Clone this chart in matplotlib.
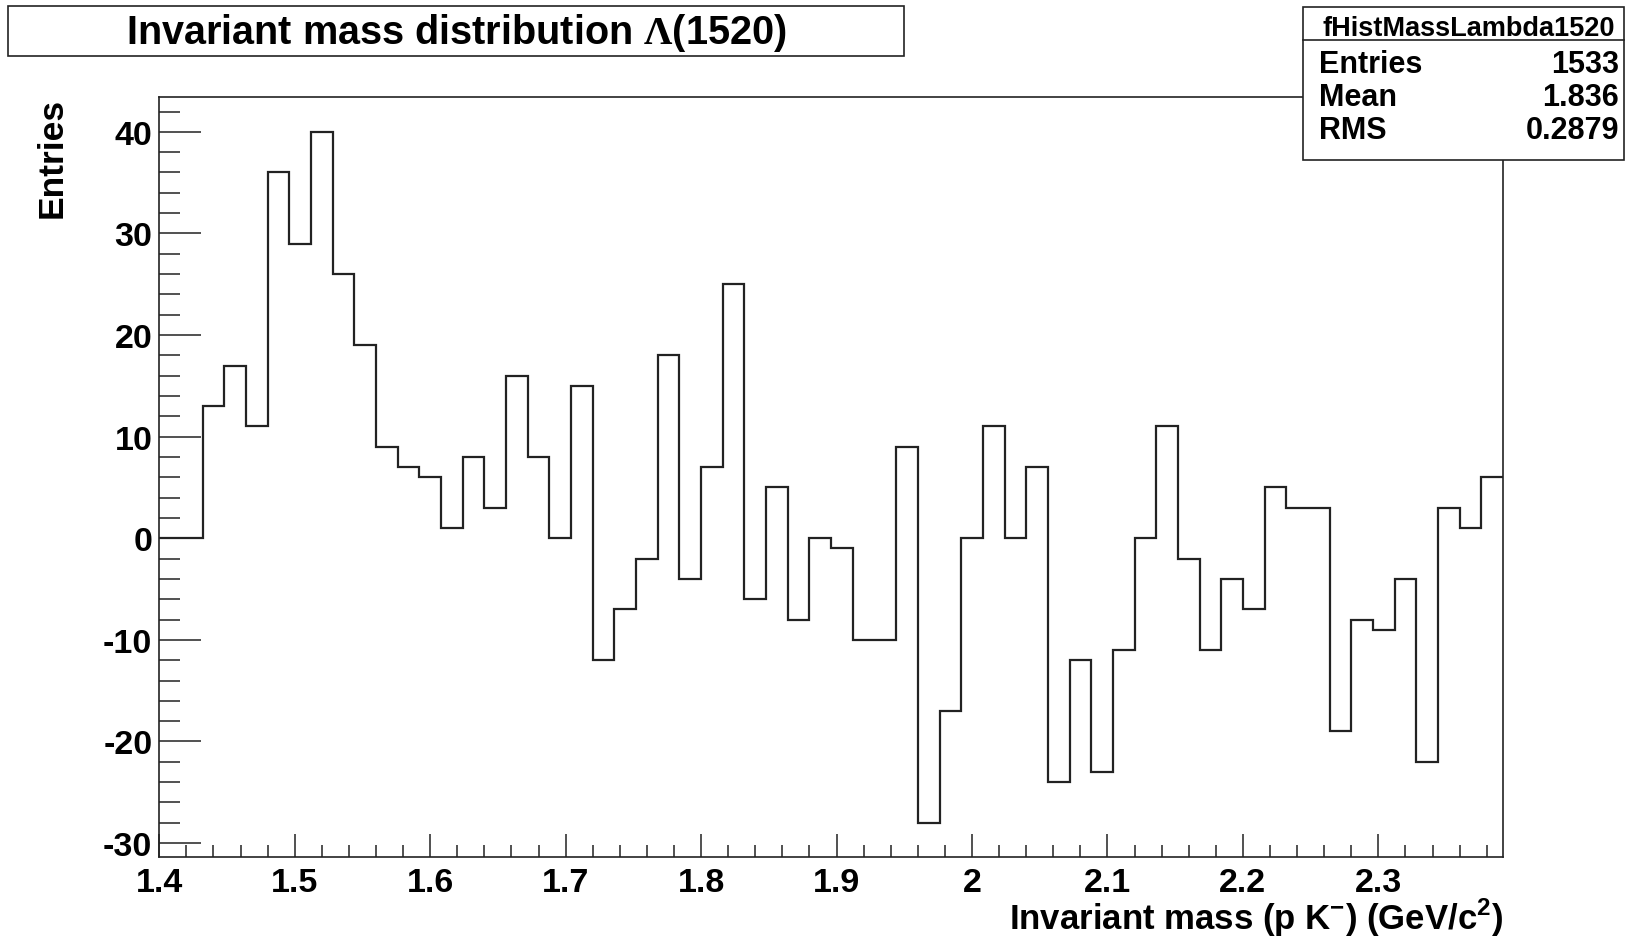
import matplotlib
matplotlib.use('Agg')
import matplotlib.pyplot as plt
from matplotlib.patches import Rectangle
import numpy as np

# histogram contents, 62 bins of 0.016 GeV/c^2 starting at 1.4
bin_start = 1.4
bin_width = 0.016
counts = [0, 0, 13, 17, 11, 36, 29, 40, 26, 19,
          9, 7, 6, 1, 8, 3, 16, 8, 0, 15,
          -12, -7, -2, 18, -4, 7, 25, -6, 5, -8,
          0, -1, -10, -10, 9, -28, -17, 0, 11, 0,
          7, -24, -12, -23, -11, 0, 11, -2, -11, -4,
          -7, 5, 3, 3, -19, -8, -9, -4, -22, 3,
          1, 6]
xtick_vals = [1.4, 1.5, 1.6, 1.7, 1.8, 1.9, 2.0, 2.1, 2.2, 2.3]
xtick_labels = ['1.4', '1.5', '1.6', '1.7', '1.8', '1.9', '2', '2.1', '2.2', '2.3']
ytick_vals = [-30, -20, -10, 0, 10, 20, 30, 40]
stat_names = ['Entries', 'Mean', 'RMS']
stat_values = ['1533', '1.836', '0.2879']
hist_name = 'fHistMassLambda1520'

plt.rcParams['font.family'] = ['Liberation Sans', 'DejaVu Sans']
plt.rcParams['font.weight'] = 'bold'
plt.rcParams['axes.unicode_minus'] = False
plt.rcParams['mathtext.fontset'] = 'custom'
plt.rcParams['mathtext.rm'] = 'Liberation Sans:bold'
plt.rcParams['mathtext.cal'] = 'Liberation Serif'
plt.rcParams['mathtext.bf'] = 'Liberation Sans:bold'

W, H = 1625, 945
fig = plt.figure(figsize=(W / 100, H / 100), dpi=100)


def fx(x):
    return x / W


def fy(y):
    return 1 - y / H


ax = fig.add_axes([fx(159.3), fy(858.3), fx(1503) - fx(159.3), fy(98.3) - fy(858.3)])

edges = bin_start + bin_width * np.arange(len(counts) + 1)
ax.stairs(counts, edges, baseline=None, color='#222222', linewidth=1.6)

ax.set_xlim(edges[0], edges[-1])
ax.set_ylim(-31.4, 43.4)

ax.set_xticks(xtick_vals)
ax.set_xticklabels(xtick_labels)
ax.set_xticks(np.arange(1.42, 2.39, 0.02), minor=True)
ax.set_yticks(ytick_vals)
ax.set_yticks(np.arange(-30, 43, 2), minor=True)

ax.tick_params(axis='both', which='both', direction='in', top=False, right=False,
               width=1.1, color='#222222', labelsize=24.5)
ax.tick_params(axis='y', which='major', length=30, pad=5)
ax.tick_params(axis='y', which='minor', length=15)
ax.tick_params(axis='x', which='major', length=16.5, pad=7)
ax.tick_params(axis='x', which='minor', length=8.5)
for s in ax.spines.values():
    s.set_linewidth(1.2)
    s.set_color('#222222')

# axis titles
fig.text(fx(1503), fy(930), 'Invariant mass (p K$^{-}$) (GeV/c$^{2}$)',
         ha='right', va='baseline', fontsize=25, fontweight='bold')
fig.text(fx(52), fy(98.3), 'Entries', rotation=90, ha='center', va='top',
         fontsize=25.5, fontweight='bold')

# title box
fig.add_artist(Rectangle((fx(8), fy(57.3)), fx(904) - fx(8), fy(7.3) - fy(57.3),
                         transform=fig.transFigure, facecolor='white',
                         edgecolor='#222222', linewidth=1.2))
fig.text(fx(456), fy(43.5), r'Invariant mass distribution $\mathcal{\Lambda}$(1520)',
         ha='center', va='baseline', fontsize=28.5, fontweight='bold')

# stats box
fig.add_artist(Rectangle((fx(1302.7), fy(160.7)), fx(1624) - fx(1302.7), fy(7.5) - fy(160.7),
                         transform=fig.transFigure, facecolor='white',
                         edgecolor='#222222', linewidth=1.2, zorder=5))
fig.add_artist(plt.Line2D([fx(1302.7), fx(1624)], [fy(41), fy(41)],
                          transform=fig.transFigure, color='#222222', linewidth=1.2, zorder=6))
fig.text(fx(1469), fy(35.5), hist_name, ha='center', va='baseline',
         fontsize=19.5, fontweight='bold', zorder=7)
row_base = [73.5, 106.3, 139]
for name, val, yb in zip(stat_names, stat_values, row_base):
    fig.text(fx(1319), fy(yb), name, ha='left', va='baseline',
             fontsize=22, fontweight='bold', zorder=7)
    fig.text(fx(1619), fy(yb), val, ha='right', va='baseline',
             fontsize=22, fontweight='bold', zorder=7)

fig.savefig('out.png', dpi=100)
